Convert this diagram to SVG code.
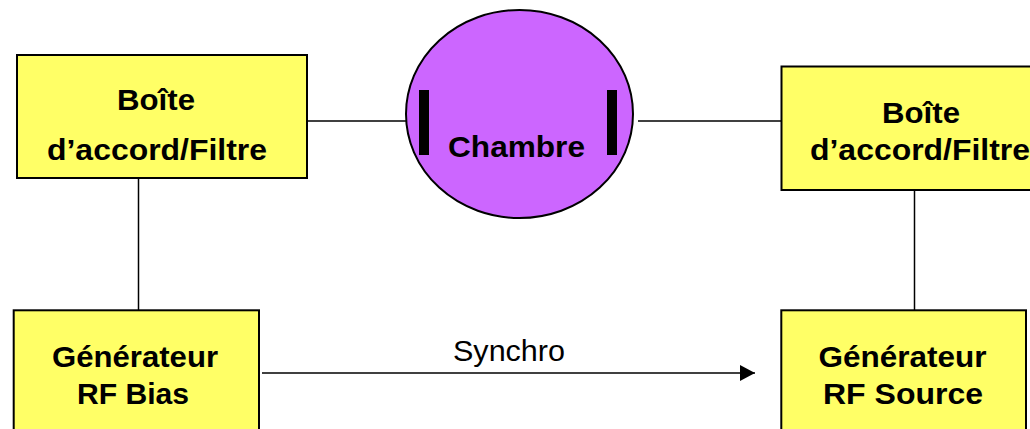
<svg xmlns="http://www.w3.org/2000/svg" width="1030" height="429" viewBox="0 0 1030 429">
  <style>
    .box { fill: #FFFF66; stroke: #000; stroke-width: 2; }
    .wire { fill: none; stroke: #000; stroke-width: 1.5; }
    .lbl { font-family: "Liberation Sans", Arial, sans-serif; font-weight: bold; font-size: 30px; fill: #000; text-anchor: middle; }
    .note { font-family: "Liberation Sans", Arial, sans-serif; font-size: 30px; fill: #000; text-anchor: middle; }
  </style>
  <defs>
    <marker id="arrow" markerWidth="15" markerHeight="16" refX="15" refY="8" orient="auto" markerUnits="userSpaceOnUse">
      <path d="M0,0 L15,8 L0,16 Z" fill="#000"/>
    </marker>
  </defs>
  <rect width="1030" height="429" fill="#fff"/>

  <!-- connectors -->
  <g id="connectors">
    <line class="wire" x1="307" y1="121" x2="416" y2="121"/>
    <line class="wire" x1="638" y1="121" x2="781" y2="121"/>
    <line class="wire" x1="138.5" y1="179" x2="138.5" y2="310"/>
    <line class="wire" x1="914.5" y1="190" x2="914.5" y2="310"/>
    <line class="wire" x1="262" y1="373" x2="755" y2="373" marker-end="url(#arrow)"/>
    <text class="note" x="509" y="361" textLength="112" lengthAdjust="spacingAndGlyphs">Synchro</text>
  </g>

  <!-- matching box, bias side -->
  <g id="boite-left">
    <rect class="box" x="17" y="55" width="290" height="123"/>
    <text class="lbl" x="156" y="110" textLength="78" lengthAdjust="spacingAndGlyphs">Boîte</text>
    <text class="lbl" x="157" y="160" textLength="220" lengthAdjust="spacingAndGlyphs">d’accord/Filtre</text>
  </g>

  <!-- plasma chamber with its two electrodes -->
  <g id="chambre">
    <ellipse cx="519.5" cy="114" rx="113.5" ry="104" fill="#CC66FF" stroke="#000" stroke-width="2"/>
    <rect x="419" y="90" width="10" height="65" fill="#000"/>
    <rect x="607" y="90" width="10" height="65" fill="#000"/>
    <text class="lbl" x="516.5" y="156.5" textLength="137" lengthAdjust="spacingAndGlyphs">Chambre</text>
  </g>

  <!-- matching box, source side -->
  <g id="boite-right">
    <rect class="box" x="781.5" y="66.5" width="300" height="123.5"/>
    <text class="lbl" x="921" y="123" textLength="78" lengthAdjust="spacingAndGlyphs">Boîte</text>
    <text class="lbl" x="920" y="159.5" textLength="220" lengthAdjust="spacingAndGlyphs">d’accord/Filtre</text>
  </g>

  <!-- RF bias generator -->
  <g id="gen-bias">
    <rect class="box" x="13.7" y="310.3" width="245.3" height="140"/>
    <text class="lbl" x="135" y="367" textLength="166" lengthAdjust="spacingAndGlyphs">Générateur</text>
    <text class="lbl" x="133" y="404" textLength="112" lengthAdjust="spacingAndGlyphs">RF Bias</text>
  </g>

  <!-- RF source generator -->
  <g id="gen-source">
    <rect class="box" x="781.3" y="310.3" width="244.7" height="140"/>
    <text class="lbl" x="902.5" y="367" textLength="168" lengthAdjust="spacingAndGlyphs">Générateur</text>
    <text class="lbl" x="903" y="404" textLength="160" lengthAdjust="spacingAndGlyphs">RF Source</text>
  </g>
</svg>
